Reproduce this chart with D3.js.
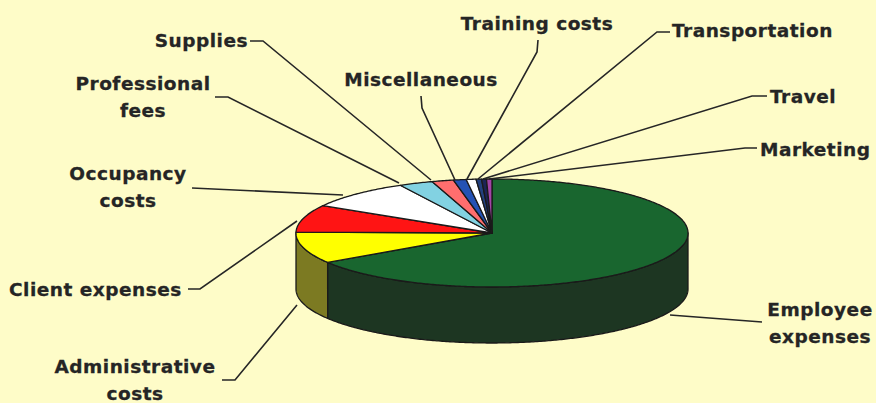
<!DOCTYPE html>
<html><head><meta charset="utf-8">
<script src="https://cdn.jsdelivr.net/npm/d3@7"></script>
<style>
html,body{margin:0;padding:0;background:#FEFCC8;}
svg{display:block;}
text{font-family:"DejaVu Sans",Verdana,sans-serif;font-weight:bold;fill:#252525;font-size:18.5px;stroke:#252525;stroke-width:0.3px;}
</style></head>
<body>
<svg id="chart" width="876" height="403"></svg>
<script>
// ---- data ----
const categories = ["Employee expenses","Administrative costs","Client expenses","Occupancy costs",
  "Professional fees","Supplies","Miscellaneous","Training costs","Transportation","Travel","Marketing"];
const values = [65.8, 9.4, 8.2, 8.8, 2.8, 1.8, 1.05, 0.8, 0.45, 0.4, 0.45];
const topColors = ["#19662f","#FFFF00","#FF1414","#FFFFFF","#82D2E2","#FF6E6E","#2452B4","#FFFFFF","#22407E","#1C2456","#A244A6"];
const sideColors = ["#1d3622","#7c7a22","#8a1010","#9a9a9a","#4a8a96","#9a3a3a","#122a60","#9a9a9a","#10203e","#0e122a","#5a205c"];
// label text lines
const labelLines = [["Employee","expenses"],["Administrative","costs"],["Client expenses"],["Occupancy","costs"],
  ["Professional","fees"],["Supplies"],["Miscellaneous"],["Training costs"],["Transportation"],["Travel"],["Marketing"]];

const W = 876, H = 403;
const cx = 492, cy = 233, rx = 196, ry = 54, depth = 56;

const svg = d3.select("#chart");
svg.append("rect").attr("width", W).attr("height", H).attr("fill", "#FEFCC8");

const pie = d3.pie().sort(null).value(d => d).startAngle(0).endAngle(2 * Math.PI);
const arcs = pie(values);

// angle measured clockwise from 12 o'clock
const px = a => cx + rx * Math.sin(a);
const py = (a, dz = 0) => cy - ry * Math.cos(a) + dz;

function arcPts(a0, a1, dz) {
  const n = Math.max(2, Math.ceil(Math.abs(a1 - a0) / 0.01));
  return d3.range(n + 1).map(i => {
    const a = a0 + (a1 - a0) * i / n;
    return [px(a), py(a, dz)];
  });
}
const line = d3.line();

const gSide = svg.append("g");
const gTop = svg.append("g");

arcs.forEach((d, i) => {
  const s = Math.max(d.startAngle, Math.PI / 2), e = Math.min(d.endAngle, 3 * Math.PI / 2);
  if (e > s) {
    const pts = arcPts(s, e, 0).concat(arcPts(e, s, depth));
    gSide.append("path").attr("d", line(pts) + "Z")
      .attr("fill", sideColors[i]).attr("stroke", "#1a1a1a").attr("stroke-width", 1.3)
      .attr("stroke-linejoin", "round");
  }
});
arcs.forEach((d, i) => {
  const pts = [[cx, cy]].concat(arcPts(d.startAngle, d.endAngle, 0));
  gTop.append("path").attr("d", line(pts) + "Z")
    .attr("fill", topColors[i]).attr("stroke", "#1a1a1a").attr("stroke-width", 1.3)
    .attr("stroke-linejoin", "round");
});

// ---- labels ----
const labelPos = [
  {x: 820, y: 316, anchor: "middle", pts: [[762, 322], [670, 315]]},
  {x: 135, y: 373, anchor: "middle", pts: [[222, 380], [235, 380], [297, 305]]},
  {x: 9, y: 296, anchor: "start", pts: [[188, 289], [200, 289], [297, 221]]},
  {x: 128, y: 180, anchor: "middle", pts: [[192, 188], [343, 195]]},
  {x: 143, y: 90, anchor: "middle", pts: [[215, 97], [228, 97], [399, 183]]},
  {x: 248, y: 47, anchor: "end", pts: [[250, 41], [263, 41], [431, 180]]},
  {x: 421, y: 86, anchor: "middle", pts: [[421, 96], [422, 108], [455, 180]]},
  {x: 537, y: 30, anchor: "middle", pts: [[538, 40], [537, 52], [467, 179]]},
  {x: 672, y: 37, anchor: "start", pts: [[670, 32], [657, 32], [478, 179]]},
  {x: 770, y: 103, anchor: "start", pts: [[767, 96], [752, 96], [483, 179]]},
  {x: 760, y: 156, anchor: "start", pts: [[757, 148], [745, 148], [489, 179]]}
];

const gLab = svg.append("g");
labelPos.forEach((p, i) => {
  gLab.append("path").attr("d", line(p.pts)).attr("fill", "none")
    .attr("stroke", "#262626").attr("stroke-width", 1.6);
  const t = gLab.append("text").attr("text-anchor", p.anchor).attr("x", p.x).attr("y", p.y)
    .attr("letter-spacing", "0.5px");
  labelLines[i].forEach((s, k) => {
    t.append("tspan").attr("x", p.x).attr("dy", k === 0 ? 0 : 27).text(s);
  });
});
</script>
</body></html>
